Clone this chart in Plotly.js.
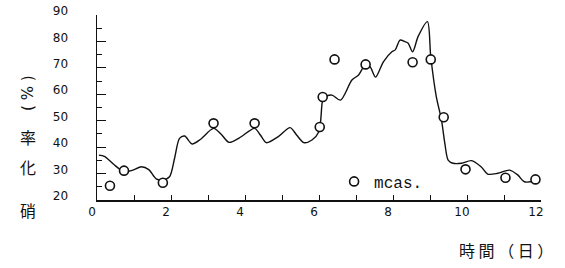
<!DOCTYPE html>
<html><head><meta charset="utf-8">
<script src="https://cdn.plot.ly/plotly-3.0.1.min.js"></script>
<style>body{margin:0;background:#fff}#c{width:565px;height:268px}</style>
</head><body><div id="c"></div>
<script>
// measured points (mcas.)
const measX = [0.35, 0.73, 1.78, 3.15, 4.26, 6.02, 6.10, 6.42, 7.26, 8.53, 9.02, 9.37, 9.96, 11.04, 11.85];
const measY = [25.4, 31.1, 26.5, 49.0, 49.0, 47.6, 59.0, 73.2, 71.3, 72.1, 73.2, 51.3, 31.6, 28.4, 27.8];
// simulated curve
const simX = [0.05, 0.2, 0.45, 0.73, 0.95, 1.2, 1.4, 1.6, 1.77, 1.96, 2.1, 2.23, 2.37, 2.57, 2.8, 3.15, 3.35, 3.57, 3.85, 4.26, 4.42, 4.58, 4.9, 5.22, 5.4, 5.59, 5.81, 6.0, 6.1, 6.17, 6.35, 6.58, 6.89, 7.07, 7.25, 7.38, 7.53, 7.74, 7.97, 8.06, 8.19, 8.32, 8.41, 8.53, 8.68, 8.93, 9.02, 9.17, 9.31, 9.4, 9.49, 9.62, 9.85, 10.12, 10.38, 10.56, 10.83, 11.15, 11.37, 11.55, 11.85];
const simY = [37.0, 36.5, 33.5, 30.7, 31.2, 32.6, 31.5, 28.0, 27.6, 28.8, 36.0, 43.3, 44.2, 41.2, 43.0, 47.1, 45.0, 41.8, 43.5, 47.1, 44.5, 41.7, 44.0, 47.4, 44.5, 41.7, 42.7, 45.9, 57.8, 59.1, 59.7, 57.8, 65.4, 67.3, 71.1, 70.4, 66.5, 72.3, 76.1, 76.8, 80.5, 79.9, 79.3, 76.1, 81.9, 87.5, 74.3, 59.1, 50.3, 41.5, 35.1, 33.9, 33.9, 34.9, 32.6, 29.8, 30.1, 31.3, 29.5, 26.9, 27.2];
const xTicks = [0, 2, 4, 6, 8, 10, 12];
const yTicks = [20, 30, 40, 50, 60, 70, 80, 90];

const tickFont = {family: 'DejaVu Sans', size: 12, color: '#111'};
const cjk = {family: 'Noto Sans CJK JP', size: 16, color: '#111'};
const data = [
  {x: simX, y: simY, mode: 'lines', line: {color: '#111', width: 1.4, shape: 'spline', smoothing: 0.8}, showlegend: false, hoverinfo: 'skip'},
  {x: measX, y: measY, mode: 'markers', name: 'mcas.', marker: {symbol: 'circle', size: 9, color: '#fff', line: {color: '#111', width: 1.6}}}
];
const layout = {
  width: 565, height: 268,
  margin: {l: 97, r: 24, t: 15, b: 68},
  paper_bgcolor: '#fff', plot_bgcolor: '#fff',
  showlegend: true,
  legend: {x: 0.534, y: 0.1, xanchor: 'left', yanchor: 'middle', bgcolor: 'rgba(0,0,0,0)', font: {family: 'Liberation Mono', size: 16, color: '#111'}, itemwidth: 30},
  xaxis: {range: [0, 12], showgrid: false, zeroline: false, showline: true, linecolor: '#111', linewidth: 1.5,
    tickvals: xTicks, ticks: 'inside', ticklen: 5, tickcolor: '#111', tickfont: tickFont, ticklabelshift: -5,
    minor: {dtick: 1, ticks: 'inside', ticklen: 5, tickcolor: '#111'}},
  yaxis: {range: [20, 90], showgrid: false, zeroline: false, showline: true, linecolor: '#111', linewidth: 1.5,
    tickvals: yTicks, ticks: 'inside', ticklen: 9, tickcolor: '#111', tickfont: tickFont, ticklabelstandoff: 25, ticklabelshift: -4,
    minor: {dtick: 5, ticks: 'inside', ticklen: 5, tickcolor: '#111'}},
  annotations: [
    {text: '時 間 （ 日 ）', xref: 'paper', yref: 'paper', x: 1.031, y: -0.27, xanchor: 'right', yanchor: 'middle', showarrow: false, font: cjk},
    {text: '( % )', xref: 'paper', yref: 'paper', x: -0.155, y: 0.58, xanchor: 'center', yanchor: 'middle', textangle: -90, showarrow: false, font: {family: 'DejaVu Sans', size: 15, color: '#111'}},
    {text: '率', xref: 'paper', yref: 'paper', x: -0.155, y: 0.0, xanchor: 'center', yanchor: 'middle', yshift: 63, showarrow: false, font: cjk},
    {text: '化', xref: 'paper', yref: 'paper', x: -0.155, y: 0.0, xanchor: 'center', yanchor: 'middle', yshift: 33, showarrow: false, font: cjk},
    {text: '硝', xref: 'paper', yref: 'paper', x: -0.155, y: 0.0, xanchor: 'center', yanchor: 'middle', yshift: -10, showarrow: false, font: cjk}
  ]
};
Plotly.newPlot('c', data, layout, {displayModeBar: false, staticPlot: true});
</script></body></html>
